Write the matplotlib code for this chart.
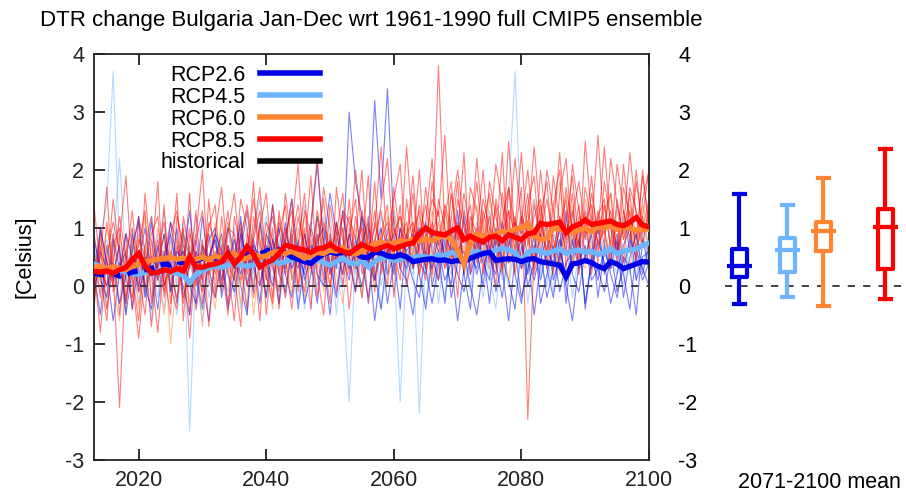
import numpy as np
import matplotlib
matplotlib.use("Agg")
import matplotlib.pyplot as plt
from matplotlib.lines import Line2D

plt.rcParams['font.family'] = ['Liberation Sans', 'DejaVu Sans']

# ---------------- data ----------------
start_year = 2013
title = "DTR change Bulgaria Jan-Dec wrt 1961-1990 full CMIP5 ensemble"
scenarios = ["RCP2.6", "RCP4.5", "RCP6.0", "RCP8.5", "historical"]
colors = ["#0000e6", "#6fb4ff", "#ff8533", "#ff0000", "#000000"]
yticks = [-3, -2, -1, 0, 1, 2, 3, 4]
xticks = [2020, 2040, 2060, 2080, 2100]

# ensemble means (2013..2100)
mean_rcp26 = [0.22, 0.20, 0.18, 0.22, 0.17, 0.20, 0.24, 0.26, 0.28, 0.30,
              0.34, 0.38, 0.36, 0.42, 0.40, 0.46, 0.44, 0.48, 0.50, 0.48,
              0.52, 0.50, 0.54, 0.52, 0.56, 0.58, 0.55, 0.60, 0.64, 0.62,
              0.58, 0.50, 0.46, 0.42, 0.39, 0.48, 0.55, 0.59, 0.56, 0.58,
              0.57, 0.56, 0.50, 0.49, 0.58, 0.57, 0.52, 0.50, 0.54, 0.50,
              0.42, 0.44, 0.46, 0.47, 0.44, 0.45, 0.42, 0.44, 0.42, 0.48,
              0.52, 0.56, 0.58, 0.44, 0.46, 0.47, 0.46, 0.42, 0.46, 0.47,
              0.42, 0.40, 0.38, 0.36, 0.16, 0.38, 0.40, 0.44, 0.40, 0.34,
              0.30, 0.42, 0.38, 0.30, 0.34, 0.38, 0.42, 0.41]
mean_rcp45 = [0.38, 0.34, 0.30, 0.26, 0.28, 0.24, 0.22, 0.20, 0.24, 0.22,
              0.26, 0.28, 0.24, 0.22, 0.18, 0.06, 0.20, 0.26, 0.32, 0.34,
              0.32, 0.36, 0.38, 0.36, 0.34, 0.36, 0.40, 0.38, 0.44, 0.39,
              0.42, 0.46, 0.48, 0.44, 0.42, 0.46, 0.40, 0.36, 0.42, 0.48,
              0.40, 0.38, 0.44, 0.33, 0.42, 0.48, 0.50, 0.44, 0.46, 0.50,
              0.48, 0.52, 0.50, 0.48, 0.54, 0.52, 0.58, 0.55, 0.45, 0.56,
              0.60, 0.55, 0.58, 0.62, 0.65, 0.62, 0.58, 0.42, 0.58, 0.62,
              0.60, 0.56, 0.60, 0.64, 0.56, 0.60, 0.62, 0.58, 0.60, 0.54,
              0.58, 0.64, 0.56, 0.60, 0.62, 0.64, 0.70, 0.74]
mean_rcp60 = [0.32, 0.34, 0.30, 0.33, 0.31, 0.28, 0.34, 0.38, 0.42, 0.44,
              0.46, 0.47, 0.50, 0.46, 0.48, 0.44, 0.46, 0.50, 0.45, 0.52,
              0.48, 0.50, 0.56, 0.46, 0.48, 0.54, 0.50, 0.52, 0.58, 0.60,
              0.56, 0.60, 0.54, 0.48, 0.52, 0.58, 0.56, 0.62, 0.60, 0.66,
              0.58, 0.55, 0.60, 0.66, 0.72, 0.76, 0.72, 0.74, 0.78, 0.76,
              0.80, 0.78, 0.82, 0.78, 0.84, 0.88, 0.80, 0.62, 0.38, 0.74,
              0.90, 0.86, 0.84, 0.90, 0.94, 0.92, 0.98, 1.00, 1.08, 0.86,
              0.80, 0.82, 1.00, 0.98, 0.96, 0.92, 0.96, 1.00, 0.94, 1.02,
              1.00, 1.04, 0.98, 1.02, 1.00, 0.96, 0.98, 0.98]
mean_rcp85 = [0.25, 0.24, 0.26, 0.22, 0.28, 0.32, 0.45, 0.56, 0.35, 0.22,
              0.24, 0.28, 0.25, 0.30, 0.26, 0.50, 0.33, 0.32, 0.36, 0.38,
              0.42, 0.56, 0.38, 0.50, 0.68, 0.55, 0.33, 0.40, 0.45, 0.56,
              0.70, 0.68, 0.64, 0.62, 0.58, 0.64, 0.66, 0.72, 0.64, 0.60,
              0.56, 0.64, 0.72, 0.66, 0.62, 0.66, 0.70, 0.64, 0.68, 0.72,
              0.74, 0.90, 1.00, 0.92, 0.90, 0.88, 0.95, 1.00, 0.80, 0.86,
              0.80, 0.76, 0.84, 0.86, 0.78, 0.88, 0.84, 0.80, 0.90, 0.92,
              1.08, 1.06, 1.08, 1.10, 0.92, 1.02, 1.06, 1.14, 1.06, 1.08,
              1.10, 1.12, 1.06, 1.04, 1.10, 1.18, 1.05, 1.02]
rcp26_dashed_until = 2043

# individual ensemble members
rcp26_m1 = [0.2, -0.5, 0.7, 0.1, 0.4, -0.3, 0.9, 0.0, 0.5, 0.3,
            -0.4, 0.6, 0.2, 1.0, -0.2, 0.4, 0.8, 0.1, -0.6, 0.5,
            0.9, 0.2, -0.1, 0.6, 1.3, 0.3, 0.0, 0.7, 0.4, -0.3,
            0.8, 1.5, 0.5, 0.2, 1.0, 2.1, 0.7, 1.6, 0.9, 0.4,
            3.0, 1.8, 1.2, 0.8, 3.2, 1.5, 3.4, 1.0, 0.6, 0.3,
            0.9, 0.2, -0.4, 0.5, 0.1, 0.8, -0.2, 0.4, 0.6, 0.0,
            -0.5, 0.3, 0.7, -0.1, 0.4, 0.9, 0.2, -0.3, 0.5, 0.1,
            0.6, -0.2, 0.3, 0.8, 0.0, -0.6, 0.4, 0.7, 0.1, 0.3,
            -0.1, 0.5, 0.9, 0.2, -0.4, 0.6, 0.3, 0.0]
rcp26_m2 = [0.5, 0.1, -0.2, 0.8, 0.3, 0.6, -0.4, 0.4, 1.0, 0.2,
            0.7, 0.0, 0.4, -0.3, 0.9, 0.5, 0.1, 1.2, 0.3, -0.2,
            0.4, 1.0, 0.6, 0.0, -0.5, 0.8, 0.3, 0.5, 1.4, 0.2,
            -0.1, 0.6, 0.3, 0.9, 0.4, -0.3, 0.7, 0.2, 1.1, 0.5,
            0.1, 0.8, 0.4, -0.2, 0.6, 1.0, 0.2, 0.5, -0.4, 0.9,
            0.3, 0.7, 1.1, 0.0, 0.5, -0.3, 0.8, 0.4, 1.2, 0.2,
            0.6, 0.0, 0.9, 0.4, -0.2, 0.7, 1.0, 0.3, 0.6, -0.5,
            0.4, 0.9, 0.1, 0.5, 1.3, 0.2, -0.1, 0.6, 0.3, 0.8,
            0.4, -0.3, 0.2, 0.7, 1.0, 0.1, 0.5, 0.6]
rcp26_m3 = [-0.2, 0.6, 0.3, -0.6, 0.2, 0.9, 0.5, -0.1, 0.3, 1.1,
            0.1, 0.5, 0.9, 0.3, 0.0, -0.5, 0.6, 0.2, 0.8, 1.0,
            -0.2, 0.4, 0.8, 0.2, 0.6, -0.1, 1.1, 0.4, 0.0, 0.7,
            0.3, 0.9, -0.4, 0.4, 0.7, 0.2, 0.0, 0.8, 0.3, 1.3,
            0.5, -0.1, 0.7, 1.1, 0.2, -0.4, 0.6, 0.9, 0.3, 0.1,
            -0.5, 0.4, 0.2, 0.9, 0.6, 0.1, 0.4, -0.6, 0.3, 0.8,
            0.2, 0.6, -0.3, 0.8, 0.5, 0.1, -0.4, 0.7, 0.2, 0.9,
            -0.3, 0.2, 0.7, -0.1, 0.4, 0.6, 1.0, -0.4, 0.5, 0.1,
            0.7, 0.2, -0.2, 0.5, 0.3, -0.5, 0.8, 0.3]
rcp26_m4 = [0.8, 0.3, 0.0, 0.4, -0.3, 0.2, 0.6, 1.2, -0.2, 0.5,
            0.3, 0.9, -0.1, 0.6, 0.4, 1.3, 0.2, -0.4, 0.5, 0.8,
            0.1, 0.7, 0.3, 1.2, 0.0, 0.5, -0.3, 0.9, 0.6, 1.0,
            0.2, -0.2, 0.8, 0.1, 0.5, 1.2, 0.4, -0.5, 0.6, 0.2,
            0.9, 0.4, 0.0, 0.6, -0.6, 0.3, 0.8, 0.2, 1.0, 0.5,
            0.1, -0.2, 0.6, 0.3, 0.9, 0.5, 0.0, 1.3, 0.2, -0.4,
            0.8, 0.4, 0.1, 1.0, 0.3, -0.6, 0.5, 0.8, 0.0, 0.4,
            0.9, 0.3, -0.2, 0.6, 0.2, 0.5, 0.8, -0.3, 0.4, 1.1,
            0.2, 0.6, -0.1, 0.3, 0.8, 0.5, 0.1, 0.4]
rcp26_m5 = [0.1, 1.0, 0.4, 0.2, 0.7, -0.5, 0.3, 0.6, 0.0, -0.4,
            0.5, 0.2, 1.1, 0.4, 0.6, 0.0, -0.3, 0.7, 0.4, 0.9,
            0.6, -0.4, 0.2, 0.9, 0.3, 0.7, 0.5, -0.2, 0.8, 0.4,
            1.1, 0.3, 0.6, -0.3, 0.2, 0.8, 1.0, 0.4, -0.2, 0.7,
            0.3, 0.6, 1.2, 0.4, 0.1, 0.7, -0.3, 0.4, 0.8, 0.6,
            0.8, 1.0, 0.3, -0.3, 0.4, 0.9, 0.6, 0.2, -0.1, 0.5,
            0.3, 0.9, 0.5, 0.2, 1.1, 0.4, 0.6, -0.2, 0.3, 0.7,
            0.1, 0.6, 0.4, 1.0, -0.3, 0.8, 0.3, 0.5, 0.9, -0.2,
            0.6, 0.3, 0.8, -0.2, 0.5, 0.9, 0.2, 0.7]

rcp45_m1 = [0.4, 0.9, 1.4, 3.7, 0.6, 0.1, 0.7, -0.3, 0.5, 1.2,
            0.2, -0.4, 0.8, 0.3, 1.0, -2.5, 0.4, 0.6, 0.0, 0.9,
            0.5, 1.1, -0.2, 0.6, 0.3, 0.9, 1.5, 0.1, 0.7, -0.3,
            0.4, 1.0, 0.6, 0.2, -0.4, 0.8, 1.2, 0.3, 0.5, -0.1,
            -2.0, 0.6, 1.1, 0.4, 0.8, 0.0, 0.5, 1.3, 0.7, 0.2,
            0.9, 0.4, -0.3, 0.7, 1.1, 0.5, 0.2, 0.9, 1.4, 0.3,
            0.8, -0.2, 0.6, 1.0, 0.4, 1.6, 3.7, 0.9, 0.3, 0.7,
            1.2, 0.5, -0.1, 0.8, 0.6, 1.3, 0.2, 0.9, 0.5, 1.0,
            0.3, 0.8, 1.4, 0.4, 0.7, 0.1, 1.1, 0.6]
rcp45_m2 = [0.7, 0.2, -0.4, 0.6, 2.2, 0.4, 0.0, 1.1, 0.5, -0.6,
            0.9, 0.4, 0.1, -0.5, 0.6, 0.3, 1.2, 0.7, -0.2, 0.4,
            0.8, 0.3, 1.0, -0.4, 0.5, 0.2, 0.7, 1.2, 0.4, 0.8,
            -0.2, 0.5, 0.9, 1.4, 0.3, 0.0, 0.6, 0.9, -0.5, 0.7,
            1.0, 0.3, 0.6, -0.3, 0.4, 1.2, 0.8, 0.5, -2.0, 0.6,
            0.2, 0.8, 0.5, 1.0, 0.3, -0.2, 0.9, 0.4, 0.7, 1.2,
            0.5, 0.9, 0.2, -0.4, 0.8, 0.6, 1.1, 0.3, 0.7, 1.5,
            0.4, 0.0, 0.9, 0.6, 1.2, 0.3, 0.8, -0.3, 0.5, 1.0,
            0.9, 0.5, 0.2, 1.2, 0.6, 0.9, 0.3, 0.8]
rcp45_m3 = [0.1, 0.5, 0.8, 0.2, -0.3, 0.9, 0.4, 0.6, -0.2, 0.3,
            0.6, 1.3, -0.1, 0.4, 0.2, 0.7, -0.4, 0.3, 0.9, 0.5,
            0.0, 0.6, 0.4, 1.0, -0.5, 0.7, 0.3, 0.5, 0.1, 1.1,
            0.6, 0.2, -0.3, 0.7, 1.1, 0.4, 0.0, 0.5, 0.8, 0.3,
            0.5, 0.9, -0.2, 0.7, 0.3, 0.6, 1.0, -0.1, 0.4, 0.8,
            0.6, -2.2, 0.7, 0.3, 0.9, 0.6, 1.2, 0.2, 0.5, -0.1,
            0.9, 0.4, 1.3, 0.6, 0.1, 0.8, 0.5, 1.0, -0.3, 0.6,
            0.8, 1.1, 0.3, 0.6, 0.0, 0.9, 0.5, 1.4, 0.7, 0.2,
            0.6, 1.0, 0.4, 0.0, 0.9, 0.5, 1.2, 0.7]
rcp45_m4 = [0.5, -0.1, 0.3, 0.9, 0.4, -0.5, 1.0, 0.2, 0.7, 0.4,
            -0.2, 0.7, 0.5, 0.0, 1.1, 0.6, 0.2, -0.6, 0.5, 0.8,
            0.3, -0.1, 0.8, 0.5, 1.0, 0.1, 0.4, -0.2, 0.9, 0.6,
            0.8, 0.3, 0.7, -0.4, 0.6, 0.9, 0.2, 1.2, 0.4, 0.0,
            0.7, 0.2, 0.9, 0.5, 1.0, -0.4, 0.3, 0.8, 0.6, 0.1,
            0.5, 1.1, 0.4, 0.8, -0.3, 0.7, 0.5, 1.0, 0.2, 0.6,
            1.1, 0.6, 0.3, 0.9, 0.5, 0.0, 0.7, 1.2, 0.4, 0.9,
            0.2, 0.7, 1.0, 0.4, 0.8, -0.2, 0.6, 0.9, 1.2, 0.5,
            0.8, 0.3, 0.6, 1.1, 0.2, 0.7, 0.9, 0.4]

rcp60_m1 = [0.3, 0.8, -0.2, 0.5, 0.9, 0.1, 0.6, -0.4, 0.7, 0.3,
            1.0, 0.4, 0.0, 0.8, 0.5, -0.3, 0.9, 0.6, 0.2, 1.1,
            0.4, 0.7, 0.1, 0.9, 1.3, 0.3, 0.6, -0.2, 0.8, 0.5,
            1.0, 0.2, 0.7, 1.2, 0.4, 0.8, -0.1, 0.6, 1.1, 0.5,
            0.9, 0.3, 1.2, 0.6, 0.1, 1.0, 0.7, 1.4, 0.5, 0.8,
            1.1, 0.6, 0.3, 1.3, 0.9, 0.5, 1.6, 0.8, 0.2, 1.0,
            1.4, 0.7, 1.0, 0.4, 1.2, 1.7, 0.8, 0.5, 1.1, 1.5,
            0.9, 0.6, 1.3, 1.8, 0.7, 1.1, 0.4, 1.5, 1.0, 0.8,
            1.3, 1.6, 0.7, 1.0, 1.4, 0.9, 1.2, 0.6]
rcp60_m2 = [-0.3, 0.4, 0.7, 0.0, -0.6, 0.6, 0.2, 0.9, -0.1, 0.5,
            0.2, -0.5, 0.6, 0.3, -0.2, 0.7, 0.4, -0.7, 0.5, 0.1,
            0.9, 0.2, 0.5, -0.3, 0.6, 0.0, 1.0, 0.4, -0.4, 0.7,
            0.3, 0.9, 0.5, -0.2, 0.6, 0.3, 1.1, 0.7, 0.2, -0.3,
            0.6, 1.0, 0.4, 0.8, 0.2, 0.5, 0.0, 0.9, 1.2, 0.4,
            0.7, 0.2, 0.9, 0.5, 1.1, 0.3, 0.6, 1.0, 0.4, 0.8,
            0.5, 1.2, 0.3, 0.9, 0.6, 0.1, 1.0, 0.7, 1.3, 0.4,
            1.1, 0.5, 0.8, 0.2, 1.0, 1.4, 0.6, 0.3, 0.9, 1.2,
            0.5, 0.8, 1.1, 0.6, 0.3, 1.0, 0.7, 1.3]
rcp60_m3 = [0.6, 0.1, 1.0, 0.4, 0.2, -0.4, 0.8, 0.3, 1.2, -0.2,
            0.5, 0.8, -1.0, 0.2, 0.9, 0.4, 0.0, 0.7, 0.3, -0.4,
            0.7, 1.1, 0.4, 0.0, 0.8, -0.5, 0.5, 0.9, 0.3, 1.2,
            0.5, -0.1, 1.0, 0.6, 0.2, 1.3, 0.4, 0.0, 0.8, 1.0,
            0.3, 0.7, -0.2, 1.1, 0.6, 0.8, 1.2, 0.2, 0.7, 1.0,
            0.4, 1.2, 0.7, 0.1, 0.8, 1.4, 0.3, 0.9, 0.6, 1.1,
            0.8, 0.3, 1.5, 0.9, 0.2, 1.1, 0.6, 1.3, 0.8, 0.4,
            1.2, 0.8, 0.5, 1.1, 1.6, 0.4, 0.9, 1.2, 0.6, 1.0,
            0.9, 0.4, 1.3, 0.8, 1.1, 0.5, 1.4, 0.9]

rcp85_m1 = [0.6, -0.2, 1.1, 0.3, -2.1, 0.4, 1.3, 0.2, -0.5, 0.8,
            0.1, 1.4, -0.3, 0.7, 0.2, 1.6, -0.4, 0.5, 0.9, -0.1,
            1.2, 0.3, -0.6, 1.0, 0.4, 1.8, 0.0, 0.6, -0.2, 1.1,
            0.7, 1.5, -0.1, 0.9, 0.3, 1.3, 0.5, -0.3, 1.7, 0.8,
            0.2, 1.2, 0.6, 1.9, 0.1, 0.9, 1.4, -0.2, 1.0, 0.7,
            1.6, 0.4, 1.1, 2.2, 0.5, 1.3, 0.8, 1.8, 0.2, 1.2,
            0.9, 2.0, 0.6, 1.4, 0.3, 1.7, 1.0, 2.3, 0.7, 1.2,
            1.5, 0.4, 1.9, 1.1, 0.6, 2.1, 1.3, 0.8, 1.6, 0.9,
            2.4, 1.0, 0.5, 1.7, 1.2, 0.8, 1.9, 1.1]
rcp85_m2 = [-0.4, 0.9, 0.2, 1.5, 0.5, -0.3, 0.7, 1.1, 0.0, 0.4,
            1.8, -0.2, 0.6, 0.3, 1.0, -0.5, 0.8, 1.3, 0.2, 0.5,
            -0.1, 0.9, 1.6, 0.4, -0.4, 1.2, 0.7, 0.1, 1.4, 0.6,
            0.2, 1.0, 2.1, 0.3, 0.8, -0.2, 1.1, 0.6, 0.9, 1.6,
            0.4, -0.1, 1.3, 0.7, 1.0, 2.4, 0.5, 1.2, 0.3, 0.9,
            1.1, 0.6, 1.7, 0.8, 3.8, 0.9, 0.4, 1.5, 1.0, 0.6,
            1.8, 0.7, 1.2, 0.3, 1.6, 0.9, 2.2, 1.1, 0.5, 1.4,
            0.8, 2.0, 1.3, 0.6, 1.7, 1.0, 0.4, 2.5, 1.2, 0.9,
            1.4, 0.7, 2.1, 1.3, 0.6, 1.8, 1.0, 1.5]
rcp85_m3 = [0.9, 0.2, -0.6, 0.7, 1.0, 0.1, -0.2, 0.8, 0.5, -0.7,
            0.4, 0.9, 0.0, -0.4, 1.2, 0.6, 0.3, -0.1, 1.5, 0.2,
            0.7, -0.3, 0.5, 1.1, 0.2, 0.8, 1.3, -0.5, 0.6, 0.9,
            1.4, 0.1, 0.5, 1.0, -0.4, 1.2, 0.8, 0.3, 1.1, 0.0,
            0.9, 1.5, 0.2, 0.6, 1.3, 0.4, 0.0, 1.7, 0.8, 1.1,
            0.3, 0.9, 1.4, 0.6, 0.1, 1.2, 1.8, 0.5, 0.9, 1.4,
            0.4, 1.1, 1.6, 0.8, 0.2, 1.3, 0.9, 1.7, -2.3, 0.6,
            1.2, 1.8, 0.5, 1.0, 1.5, 0.3, 1.2, 0.9, 1.9, 0.6,
            1.1, 1.6, 0.4, 1.3, 0.8, 2.0, 0.9, 1.2]
rcp85_m4 = [0.1, 0.5, 1.7, -0.1, 0.3, 0.9, -0.4, 1.2, 0.6, 0.2,
            -0.8, 0.5, 1.1, 0.8, -0.3, 0.4, 0.9, 2.0, 0.1, -0.2,
            0.6, 1.3, 0.2, -0.7, 0.9, 0.5, 1.0, 1.6, 0.3, -0.1,
            1.0, 0.4, 1.2, 0.6, 1.9, 0.2, -0.5, 0.9, 0.4, 1.3,
            1.1, 0.5, -0.2, 1.0, 0.7, 1.4, 2.2, 0.6, 0.1, 1.5,
            0.7, 2.0, 0.3, 0.9, 1.3, 0.4, 1.6, 0.8, 2.3, 0.2,
            1.0, 0.5, 1.8, 1.2, 0.6, 2.5, 0.8, 0.3, 1.4, 1.9,
            0.6, 1.1, 0.2, 1.6, 2.2, 0.7, 1.4, 0.5, 1.0, 2.6,
            0.9, 1.3, 0.6, 2.1, 1.0, 0.4, 1.5, 2.0]
rcp85_m5 = [-0.3, 1.0, 0.4, 0.0, 0.8, 1.9, 0.2, -0.6, 0.7, 1.2,
            0.3, -0.1, 0.9, 1.3, 0.5, -0.9, 0.6, 0.2, 1.0, 1.4,
            0.0, 0.7, 0.3, 1.5, 1.0, -0.2, 0.4, 1.1, 0.8, 0.2,
            1.6, 0.7, 0.0, 1.3, 0.9, 0.5, 1.7, 1.0, -0.1, 0.6,
            1.2, 0.8, 2.0, 0.3, 1.1, 0.6, 0.9, 1.5, 2.1, 0.4,
            1.0, 0.2, 0.8, 1.5, 1.2, 2.6, 0.6, 1.1, 0.3, 1.7,
            1.3, 0.2, 0.9, 2.1, 1.4, 0.7, 1.2, 0.4, 1.0, 2.4,
            1.1, 0.6, 1.4, 2.0, 0.3, 1.2, 1.8, 1.0, 0.5, 1.3,
            0.7, 2.2, 1.4, 0.9, 1.6, 0.5, 1.2, 2.0]
rcp85_m6 = [1.4, 0.3, 0.0, 0.9, -0.5, 0.6, 1.0, -0.1, 1.6, 0.4,
            0.8, 0.2, -0.5, 1.2, 0.7, 0.3, 1.3, -0.3, 0.5, 0.9,
            1.7, 0.4, 0.1, 0.8, 1.4, 0.6, -0.6, 0.9, 1.2, 0.5,
            -0.2, 0.8, 1.4, 0.5, 1.1, 2.2, 0.7, 0.0, 0.8, 1.2,
            0.6, 2.0, 0.9, -0.3, 0.8, 1.3, 0.5, 1.0, 0.6, 2.4,
            0.9, 1.3, 0.5, 1.8, 0.8, 0.3, 1.2, 2.0, 1.1, 0.7,
            2.2, 1.0, 0.4, 1.5, 0.9, 1.3, 0.2, 1.1, 2.0, 0.8,
            1.4, 0.3, 1.0, 2.3, 0.9, 1.3, 0.6, 1.7, 1.1, 0.4,
            1.8, 1.1, 0.6, 1.0, 2.3, 1.2, 0.7, 1.4]
rcp85_m7 = [0.3, -0.8, 0.5, 1.1, 0.6, -0.2, 0.4, 0.7, 1.3, -0.3,
            0.6, 1.1, 0.2, -0.2, 0.4, 1.0, 0.0, 0.8, -0.7, 0.6,
            0.3, 1.0, 0.9, 0.1, 0.5, 1.5, 0.8, 0.2, -0.3, 1.3,
            0.5, -0.4, 0.7, 1.6, 0.3, 0.9, 0.1, 1.4, 0.7, 0.2,
            1.5, 0.3, 0.7, 1.2, -0.1, 0.8, 1.1, 0.5, 1.4, 0.0,
            0.6, 1.4, 0.9, 0.2, 1.5, 1.0, 0.5, 0.7, 1.6, 0.9,
            0.5, 1.3, 0.8, 0.0, 1.1, 1.7, 0.6, 1.2, 0.9, 0.3,
            2.0, 0.9, 0.6, 1.2, 0.8, 1.6, 0.2, 1.1, 1.4, 0.7,
            1.0, 0.3, 1.5, 0.8, 1.3, 0.6, 2.0, 0.9]
rcp85_m8 = [0.0, 0.7, -0.4, 0.4, 1.2, 0.5, 0.1, -0.9, 0.3, 0.9,
            1.2, 0.0, 0.4, 1.6, -0.6, 0.9, 0.5, 0.1, 1.1, 0.7,
            0.4, -0.5, 1.2, 0.6, 0.0, 0.9, 1.7, 0.3, 1.0, -0.4,
            0.9, 1.3, 0.4, -0.1, 1.0, 0.6, 1.5, 0.2, 0.5, 1.0,
            -0.4, 0.7, 1.0, 0.5, 1.8, 0.2, 0.6, 0.9, 1.2, 0.8,
            1.9, 0.5, 0.1, 1.1, 0.7, 1.4, 1.0, -0.2, 1.3, 0.8,
            0.6, 1.5, 1.0, 0.7, 2.3, 0.4, 1.1, 0.9, 1.6, 0.2,
            0.9, 1.5, 0.8, 0.4, 1.1, 1.9, 0.7, 1.3, 0.2, 1.2,
            1.5, 0.6, 1.1, 0.4, 1.7, 1.3, 0.8, 0.6]

# 2071-2100 mean box statistics: whislo, q1, med, q3, whishi
box_rcp26 = [-0.31, 0.15, 0.34, 0.63, 1.58]
box_rcp45 = [-0.19, 0.24, 0.62, 0.82, 1.39]
box_rcp60 = [-0.35, 0.60, 0.94, 1.10, 1.86]
box_rcp85 = [-0.22, 0.29, 1.01, 1.32, 2.36]

# ---------------- figure ----------------
W, H = 906, 491
fig = plt.figure(figsize=(W / 100, H / 100), dpi=100)

def fx(px):
    return px / W

def fy(py):
    return 1 - py / H

ax_l, ax_r, ax_t, ax_b = 94, 649, 54, 460
ax = fig.add_axes([fx(ax_l), fy(ax_b), fx(ax_r - ax_l), (ax_b - ax_t) / H])

thin_alpha = 0.5
members = [
    (rcp45_m1, colors[1]), (rcp45_m2, colors[1]), (rcp45_m3, colors[1]), (rcp45_m4, colors[1]),
    (rcp26_m1, colors[0]), (rcp85_m1, colors[3]), (rcp60_m1, colors[2]), (rcp26_m2, colors[0]),
    (rcp85_m2, colors[3]), (rcp85_m3, colors[3]), (rcp26_m3, colors[0]), (rcp60_m2, colors[2]),
    (rcp85_m4, colors[3]), (rcp26_m4, colors[0]), (rcp85_m5, colors[3]), (rcp60_m3, colors[2]),
    (rcp85_m6, colors[3]), (rcp26_m5, colors[0]), (rcp85_m7, colors[3]), (rcp85_m8, colors[3]),
]
for vals, c in members:
    yrs = np.arange(start_year, start_year + len(vals))
    ax.plot(yrs, vals, color=c, lw=0.8, alpha=thin_alpha, zorder=2)

ax.axhline(0, color="#333333", lw=1.3, ls=(0, (4, 4.5)), zorder=3)

thick = 3.8
def yrs_of(v):
    return np.arange(start_year, start_year + len(v))

y45 = yrs_of(mean_rcp45)
ax.plot(y45, mean_rcp45, color=colors[1], lw=thick, zorder=4, solid_joinstyle="miter")
y26 = yrs_of(mean_rcp26)
m26 = np.array(mean_rcp26)
cut = rcp26_dashed_until - start_year
ax.plot(y26[:cut + 1], m26[:cut + 1], color=colors[0], lw=thick, ls=(0, (2.0, 1.3)),
        dash_capstyle="butt", zorder=5)
ax.plot(y26[cut:], m26[cut:], color=colors[0], lw=thick, zorder=5, solid_joinstyle="miter")
y60 = yrs_of(mean_rcp60)
ax.plot(y60, mean_rcp60, color=colors[2], lw=thick, zorder=6, solid_joinstyle="miter")
y85 = yrs_of(mean_rcp85)
ax.plot(y85, mean_rcp85, color=colors[3], lw=thick, zorder=7, solid_joinstyle="miter")

ax.set_xlim(2013, 2100)
ax.set_ylim(-3, 4)
ax.set_xticks(xticks)
ax.set_yticks(yticks)
ax.set_yticklabels([str(t) for t in yticks])
fs = 15.5
ax.tick_params(axis="both", direction="in", length=8, width=1.3, labelsize=fs,
               top=True, right=True, colors="#222222")
ax.tick_params(axis="x", pad=7)
ax.tick_params(axis="y", pad=7)
for s in ax.spines.values():
    s.set_linewidth(1.3)
    s.set_color("#222222")

# right-side labels
ax2 = ax.twinx()
ax2.set_ylim(-3, 4)
ax2.set_yticks(yticks)
ax2.set_yticklabels([str(t) for t in yticks])
ax2.tick_params(axis="y", direction="in", length=0, labelsize=fs, pad=21)
for s in ax2.spines.values():
    s.set_visible(False)

ax.set_title(title, fontsize=16, pad=20)
fig.text(fx(25), fy(257), "[Celsius]", rotation=90, ha="center", va="center", fontsize=fs)

handles = [Line2D([], [], color=c, lw=4) for c in colors]
leg = ax.legend(handles, scenarios, loc="upper right", frameon=False, fontsize=fs,
                markerfirst=False, handlelength=2.8, handletextpad=0.65,
                labelspacing=0.04, borderpad=0, borderaxespad=0,
                bbox_to_anchor=(fx(320), fy(65)), bbox_transform=fig.transFigure)
leg.set_zorder(10)

# ---------------- box plots ----------------
bx_l = 700
axb = fig.add_axes([fx(bx_l), fy(ax_b), fx(W - bx_l), (ax_b - ax_t) / H])
axb.set_xlim(0, W - bx_l)
axb.set_ylim(-3, 4)
axb.axis("off")
axb.hlines(0, 25, W - bx_l, color="#333333", lw=1.3, linestyles=[(0, (4, 4.5))])

box_positions = [39, 87, 123, 185]
box_data = [box_rcp26, box_rcp45, box_rcp60, box_rcp85]
for pos, st, c in zip(box_positions, box_data, colors[:4]):
    stats = [dict(whislo=st[0], q1=st[1], med=st[2], q3=st[3], whishi=st[4], fliers=[])]
    lp = dict(color=c, lw=3)
    axb.bxp(stats, positions=[pos], widths=15, capwidths=11, showfliers=False,
            boxprops=lp, whiskerprops=lp, capprops=lp, medianprops=lp, manage_ticks=False)
    axb.hlines(st[2], pos - 12.5, pos + 12.5, color=c, lw=3)

fig.text(fx(819), fy(482), "2071-2100 mean", ha="center", va="center", fontsize=fs)

fig.savefig("out.png", dpi=100)
